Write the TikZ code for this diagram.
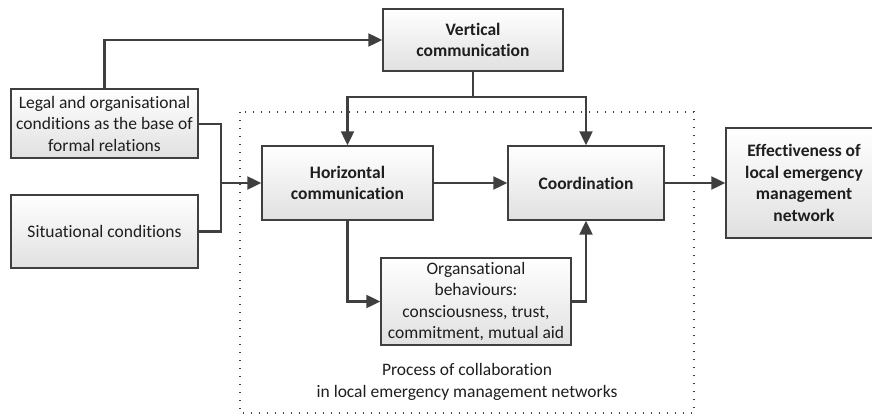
\documentclass[tikz,border=0pt]{standalone}
\usepackage{fontspec}
\setmainfont[Ligatures=NoCommon]{Carlito}
\usetikzlibrary{arrows.meta}
\definecolor{edge}{HTML}{3F3F3F}
\definecolor{ink}{HTML}{1E1E1E}
\tikzset{
  box/.style={draw=edge, line width=1.4pt, top color=white, bottom color=black!12,
    align=center, inner sep=2pt, text=ink, font=\fontsize{17.5}{21.5}\selectfont},
  bbox/.style={box, font=\fontsize{17.5}{21.5}\selectfont\bfseries},
  conn/.style={draw=edge, line width=2.2pt, -{Triangle[length=14pt,width=13pt]}},
  plain/.style={draw=edge, line width=2.2pt},
}
\begin{document}
\begin{tikzpicture}[x=1pt,y=-1pt]
\useasboundingbox (0,0) rectangle (872,414);
\draw[edge, line width=1.4pt, dash pattern=on 1.4pt off 6.6pt] (240,112) rectangle (694,413);

\node[bbox, minimum width=180pt, minimum height=62pt] (vert) at (473,40) {Vertical\\communication};
\node[box, minimum width=187pt, minimum height=69pt] (legal) at (104.5,123.5) {Legal and organisational\\conditions as the base of\\formal relations};
\node[box, minimum width=187pt, minimum height=73pt] (sit) at (104.5,231.5) {Situational conditions};
\node[bbox, minimum width=171pt, minimum height=74pt] (horiz) at (347.5,183) {Horizontal\\communication};
\node[bbox, minimum width=156pt, minimum height=74pt] (coord) at (586,183) {Coordination};
\node[bbox, minimum width=156pt, minimum height=110pt] (eff) at (804,183) {Effectiveness of\\local emergency\\management\\network};
\node[box, minimum width=190pt, minimum height=87pt] (org) at (476,301.5) {Organsational\\behaviours:\\consciousness, trust,\\commitment, mutual aid};
\node[text=ink, align=center, font=\fontsize{17.5}{21.5}\selectfont] (proc) at (467,382) {Process of collaboration\\in local emergency management networks};

\coordinate (j1) at (221,183);
\coordinate (j2) at (473,97);

\draw[conn] (legal.north) |- (vert.west);
\draw[plain] (legal.east |- 0,124) -| (j1);
\draw[plain] (sit.east) -| (j1);
\draw[conn] (j1) -- (horiz.west);
\draw[plain] (vert.south) -- (j2);
\draw[conn] (j2) -| (horiz.north);
\draw[conn] (j2) -| (coord.north);
\draw[conn] (horiz.east) -- (coord.west);
\draw[conn] (coord.east) -- (eff.west);
\draw[conn] (horiz.south) |- (org.west);
\draw[conn] (org.east) -| (coord.south);
\end{tikzpicture}
\end{document}
